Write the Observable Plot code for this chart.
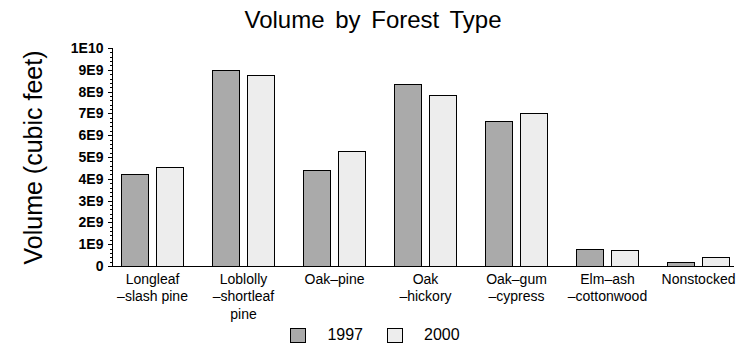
<!DOCTYPE html>
<html>
<head>
<meta charset="utf-8">
<script src="https://cdn.jsdelivr.net/npm/d3@7"></script>
<script src="https://cdn.jsdelivr.net/npm/@observablehq/plot@0.6"></script>
<style>
  body { margin: 0; background: white; }
  #wrap { position: relative; width: 750px; height: 350px; background: white; font-family: 'Liberation Sans', Arial, sans-serif; color: black; }
  #title { height: 33px; padding-top: 7px; line-height: 26px; font-size: 24px; text-align: center; word-spacing: 4px; padding-right: 4px; }
  #chart svg { display: block; }
  #legend { position: absolute; left: 0; top: 326px; width: 750px; display: flex; justify-content: center; align-items: center; font-size: 16px; }
  .sw { width: 14px; height: 13px; border: 1px solid black; }
  .lab { margin-left: 21px; margin-right: 24px; line-height: 18px; }
</style>
</head>
<body>
<div id="wrap">
  <div id="title">Volume by Forest Type</div>
  <div id="chart"></div>
  <div id="legend"></div>
</div>
<script>
const types = ["Longleaf–slash pine", "Loblolly–shortleaf pine", "Oak–pine", "Oak–hickory", "Oak–gum–cypress", "Elm–ash–cottonwood", "Nonstocked"];
const xTickLabels = ["Longleaf\n–slash pine", "Loblolly\n–shortleaf\npine", "Oak–pine", "Oak\n–hickory", "Oak–gum\n–cypress", "Elm–ash\n–cottonwood", "Nonstocked"];
const years = ["1997", "2000"];
const vol1997 = [4.22e9, 8.98e9, 4.39e9, 8.33e9, 6.64e9, 0.77e9, 0.17e9];
const vol2000 = [4.54e9, 8.75e9, 5.27e9, 7.83e9, 7.00e9, 0.72e9, 0.40e9];
const yTicks = [0, 1e9, 2e9, 3e9, 4e9, 5e9, 6e9, 7e9, 8e9, 9e9, 1e10];
const yTickLabels = ["0", "1E9", "2E9", "3E9", "4E9", "5E9", "6E9", "7E9", "8E9", "9E9", "1E10"];
const colors = ["#aaaaaa", "#ededed"];

const rows = types.flatMap((t, i) => [
  {type: t, year: years[0], value: vol1997[i]},
  {type: t, year: years[1], value: vol2000[i]}
]);
const minorTicks = d3.range(0, 51).map(i => i * 2e8);

const chart = Plot.plot({
  width: 750, height: 285,
  marginLeft: 112, marginRight: 16, marginTop: 8, marginBottom: 59,
  style: {fontFamily: "'Liberation Sans', Arial, sans-serif", background: "white", color: "black"},
  x: {domain: types, range: [118, 731], paddingInner: 0.32, paddingOuter: 0, align: 0.5, label: null, axis: null},
  y: {domain: [0, 1e10], label: null, axis: null},
  color: {domain: years, range: colors},
  marks: [
    Plot.barY(rows.filter(d => d.year === years[0]), {x: "type", y: "value", fill: "year", stroke: "black", strokeWidth: 1, insetRight: 35, shapeRendering: "crispEdges"}),
    Plot.barY(rows.filter(d => d.year === years[1]), {x: "type", y: "value", fill: "year", stroke: "black", strokeWidth: 1, insetLeft: 35, shapeRendering: "crispEdges"}),
    Plot.ruleY([0], {stroke: "black", shapeRendering: "crispEdges"}),
    Plot.frame({anchor: "left", stroke: "black", shapeRendering: "crispEdges"}),
    Plot.axisY({ticks: minorTicks, tickSize: 2, tickFormat: () => "", label: null, shapeRendering: "crispEdges"}),
    Plot.axisY({ticks: yTicks, tickSize: 4, tickPadding: 5, tickFormat: d => yTickLabels[yTicks.indexOf(d)], fontSize: 14, fontWeight: "bold", label: null, shapeRendering: "crispEdges"}),
    Plot.axisX({tickSize: 0, tickPadding: 5, tickFormat: d => xTickLabels[types.indexOf(d)], fontSize: 14, lineHeight: 1.25, label: null}),
    Plot.text(["Volume (cubic feet)"], {text: d => d, frameAnchor: "left", textAnchor: "middle", rotate: -90, dx: -79, fontSize: 25})
  ]
});
document.getElementById("chart").appendChild(chart);

const legend = document.getElementById("legend");
years.forEach((y, i) => {
  const sw = document.createElement("div");
  sw.className = "sw";
  sw.style.background = colors[i];
  const lab = document.createElement("div");
  lab.className = "lab";
  lab.textContent = y;
  if (i === years.length - 1) lab.style.marginRight = "0px";
  legend.appendChild(sw);
  legend.appendChild(lab);
});
</script>
</body>
</html>
